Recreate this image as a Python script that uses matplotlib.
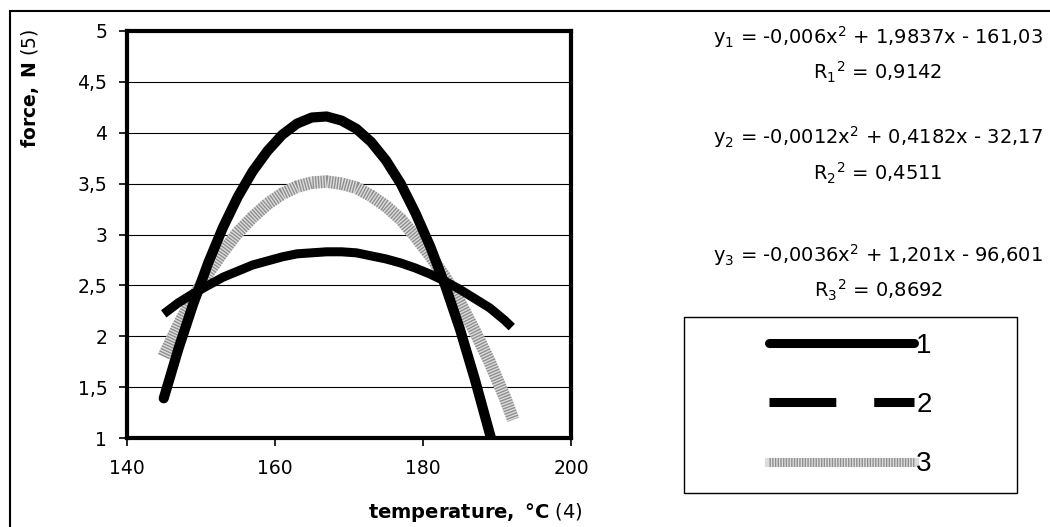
import matplotlib
matplotlib.use("Agg")
import matplotlib.pyplot as plt
from matplotlib.lines import Line2D
from matplotlib.patches import Rectangle

plt.rcParams["font.family"] = ["DejaVu Sans"]
plt.rcParams["mathtext.fontset"] = "dejavusans"

X_TICKS = [140, 160, 180, 200]
Y_TICKS = [1, 1.5, 2, 2.5, 3, 3.5, 4, 4.5, 5]
Y_TICK_LABELS = ["1", "1,5", "2", "2,5", "3", "3,5", "4", "4,5", "5"]

# values
TEMP_1 = [145, 147, 149, 151, 153, 155, 157, 159, 161, 163, 165, 167, 169, 171,
          173, 175, 177, 179, 181, 183, 185, 187, 189, 189.6]
FORCE_1 = [1.39, 1.88, 2.32, 2.72, 3.07, 3.37, 3.62, 3.82, 3.98, 4.09, 4.15, 4.16,
           4.12, 4.04, 3.91, 3.73, 3.50, 3.21, 2.88, 2.50, 2.07, 1.58, 1.05, 0.90]

TEMP_2 = [145, 147, 149, 151, 153, 155, 157, 159, 161, 163, 165, 167, 169, 171,
          173, 175, 177, 179, 181, 183, 185, 187, 189, 191, 192]
FORCE_2 = [2.22, 2.33, 2.42, 2.50, 2.58, 2.64, 2.70, 2.74, 2.78, 2.81, 2.82, 2.83,
           2.83, 2.82, 2.79, 2.76, 2.72, 2.67, 2.61, 2.54, 2.46, 2.37, 2.28, 2.16, 2.09]

TEMP_3 = [145, 147, 149, 151, 153, 155, 157, 159, 161, 163, 165, 167, 169, 171,
          173, 175, 177, 179, 181, 183, 185, 187, 189, 191, 192.2]
FORCE_3 = [1.80, 2.11, 2.38, 2.62, 2.83, 3.02, 3.17, 3.30, 3.40, 3.47, 3.51, 3.52,
           3.50, 3.46, 3.38, 3.28, 3.15, 2.98, 2.79, 2.58, 2.33, 2.05, 1.75, 1.41, 1.18]

EQUATIONS = [
    r"y$_1$ = -0,006x$^2$ + 1,9837x - 161,03",
    r"R$_1$$^2$ = 0,9142",
    r"y$_2$ = -0,0012x$^2$ + 0,4182x - 32,17",
    r"R$_2$$^2$ = 0,4511",
    r"y$_3$ = -0,0036x$^2$ + 1,201x - 96,601",
    r"R$_3$$^2$ = 0,8692",
]
EQ_Y_PX = [37, 72, 137, 173, 255, 290]
LABELS = ["1", "2", "3"]

W, H = 1050, 527
fig = plt.figure(figsize=(W / 100, H / 100), dpi=100)
ax = fig.add_axes([126.7 / W, 1 - 438 / H, (571 - 126.7) / W, (438 - 31) / H])

ax.plot(TEMP_1, FORCE_1, color="black", lw=7.3, solid_capstyle="round", zorder=4)
ax.plot(TEMP_2, FORCE_2, color="black", lw=6.5, solid_capstyle="butt", zorder=3)
ax.plot(TEMP_3, FORCE_3, color="#dcdcdc", lw=9, solid_capstyle="butt", zorder=2)
ax.plot(TEMP_3, FORCE_3, color="#8f8f8f", lw=9, dashes=(0.11, 0.11), zorder=2)

ax.set_xlim(140, 200)
ax.set_ylim(1, 5)
ax.set_xticks(X_TICKS)
ax.set_yticks(Y_TICKS)
ax.set_yticklabels(Y_TICK_LABELS)
ax.tick_params(labelsize=13.5, length=6, width=1.2, direction="out")
ax.tick_params(axis="x", pad=9)
ax.tick_params(axis="y", pad=8)
ax.grid(axis="y", color="black", lw=0.8)
ax.set_axisbelow(True)
for s in ax.spines.values():
    s.set_linewidth(3)

fig.text(475 / W, 1 - 512 / H, r"$\mathbf{temperature,\ °C}$ (4)", ha="center", va="center",
         fontsize=14)
fig.text(30 / W, 1 - 28 / H, r"$\mathbf{force,\ N}$ (5)", ha="center", va="top",
         rotation=90, fontsize=13.5)

for txt, ypx in zip(EQUATIONS, EQ_Y_PX):
    fig.text(878 / W, 1 - ypx / H, txt, ha="center", va="center", fontsize=14)

# outer chart border
fig.patches.append(Rectangle((10 / W, -0.1), 1.2, 1.1 - 11 / H, transform=fig.transFigure,
                             fill=False, edgecolor="black", lw=1.5))

# legend box
lx, ly, lw_, lh = 684 / W, 1 - 493 / H, 333 / W, 176 / H
fig.patches.append(Rectangle((lx, ly), lw_, lh, transform=fig.transFigure,
                             fill=False, edgecolor="black", lw=1))
h1 = Line2D([], [], color="black", lw=6.5, solid_capstyle="round")
h2 = Line2D([], [], color="black", lw=6.5, dashes=(7.4, 4.2))
h3a = Line2D([], [], color="#dcdcdc", lw=6.5)
h3b = Line2D([], [], color="#8f8f8f", lw=6.5, dashes=(0.15, 0.15))
fig.legend([h1, h2, (h3a, h3b)], LABELS, loc="center", bbox_to_anchor=(lx, ly, lw_, lh),
           bbox_transform=fig.transFigure, frameon=False, handlelength=5.2,
           handletextpad=0.1, labelspacing=1.2,
           prop={"family": "Liberation Sans", "size": 20})

fig.savefig("out.png", dpi=100)
